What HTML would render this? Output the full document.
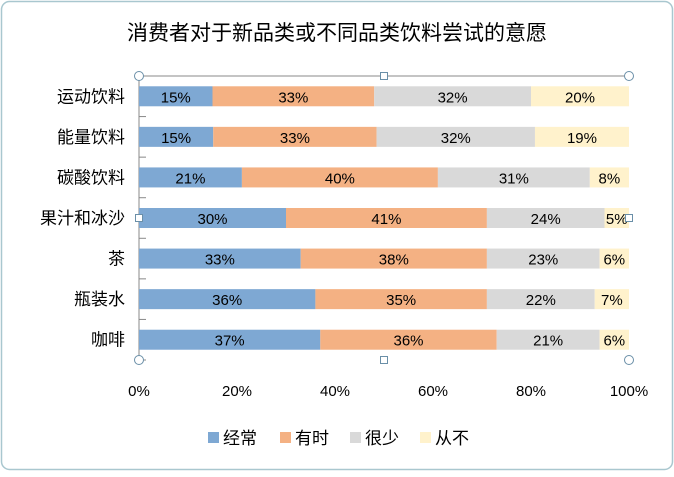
<!DOCTYPE html>
<html><head><meta charset="utf-8"><style>
body{margin:0;background:#fff;}
svg text{font-family:"Liberation Sans","Noto Sans CJK SC",sans-serif;}
</style></head><body>
<svg id="chart" width="674" height="472" xmlns="http://www.w3.org/2000/svg">
<rect x="1.5" y="1.5" width="671" height="468" rx="8" fill="#fff" stroke="#a9c7cf" stroke-width="1.5"/>
<text x="337" y="40" text-anchor="middle" font-size="21" fill="#000">消费者对于新品类或不同品类饮料尝试的意愿</text>
<g id="plot"></g>
<g id="legend"></g>
</svg>
<script>
const categories=["运动饮料","能量饮料","碳酸饮料","果汁和冰沙","茶","瓶装水","咖啡"];
const seriesNames=["经常","有时","很少","从不"];
const often=[15,15,21,30,33,36,37];
const sometimes=[33,33,40,41,38,35,36];
const rarely=[32,32,31,24,23,22,21];
const never=[20,19,8,5,6,7,6];
const tickLabels=["0%","20%","40%","60%","80%","100%"];
const colors=["#7EA8D3","#F4B183","#D9D9D9","#FFF2CC"];
const series=[often,sometimes,rarely,never];
const NS="http://www.w3.org/2000/svg";
const x0=139,x1=629,y0=76,y1=360;
const rowH=(y1-y0)/categories.length;
const xs=v=>x0+(x1-x0)*v;
const plot=document.getElementById('plot');
function mk(tag,attrs,parent){const e=document.createElementNS(NS,tag);for(const k in attrs)e.setAttribute(k,attrs[k]);parent.appendChild(e);return e;}
const topLine=mk('line',{x1:x0,y1:y0,x2:x1,y2:y0,stroke:"#888"},plot);


const ax=mk('line',{x1:x0,y1:y0,x2:x0,y2:y1,stroke:"#888"},plot);


for(let i=0;i<=categories.length;i++){
  const t=mk('line',{x1:x0,y1:y0+i*rowH,x2:x0+7,y2:y0+i*rowH,stroke:"#888"},plot);
  
  
}
categories.forEach((c,i)=>{
  const cy=y0+(i+0.5)*rowH;
  const lab=mk('text',{x:x0-14,y:cy+6,"text-anchor":"end","font-size":"17",fill:"#000"},plot);
  lab.textContent=c;
  
  
  const total=series.reduce((s,a)=>s+a[i],0);
  let acc=0;
  series.forEach((arr,j)=>{
    const a=acc/total,b=(acc+arr[i])/total;acc+=arr[i];
    const r=mk('rect',{x:xs(a),y:cy-10,width:xs(b)-xs(a),height:20,fill:colors[j]},plot);
    
    
    const t=mk('text',{x:(xs(a)+xs(b))/2,y:cy+6,"text-anchor":"middle","font-size":"15",fill:"#000"},plot);
    t.textContent=arr[i]+"%";
    
    
  });
});
tickLabels.forEach((l,i)=>{
  const t=mk('text',{x:xs(i/(tickLabels.length-1)),y:396,"text-anchor":"middle","font-size":"15",fill:"#000"},plot);
  t.textContent=l;
  
  
});
[[x0,y0],[384,y0],[x1,y0],[x0,218],[x1,218],[x0,y1],[384,y1],[x1,y1]].forEach(([hx,hy],k)=>{
  const h=(k==1||k==3||k==4||k==6)?mk('rect',{x:hx-3.5,y:hy-3.5,width:7,height:7,fill:"#fff",stroke:"#6a8fa8"},plot):mk('circle',{cx:hx,cy:hy,r:4.5,fill:"#fff",stroke:"#6a8fa8"},plot);
  
  
});
const leg=document.getElementById('legend');
const lx=[208,280,350,420];
seriesNames.forEach((n,j)=>{
  const r=mk('rect',{x:lx[j],y:432,width:11,height:11,fill:colors[j]},leg);
  
  
  const t=mk('text',{x:lx[j]+15,y:444,"font-size":"17",fill:"#000"},leg);
  t.textContent=n;
  
  
});
</script>
</body></html>
